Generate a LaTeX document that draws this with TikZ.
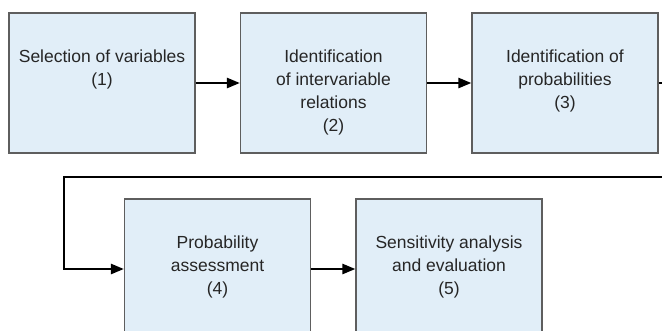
\documentclass[tikz,border=0pt]{standalone}
\usepackage{fontspec}
\setmainfont{Liberation Sans}
\usetikzlibrary{positioning,arrows.meta}
\definecolor{boxfill}{HTML}{E1EEF8}
\definecolor{boxline}{HTML}{5E5E5E}
\definecolor{txtgray}{HTML}{262626}
\tikzset{
  stepbox/.style={draw=boxline, line width=1.2pt, fill=boxfill, minimum width=186pt, minimum height=140pt, inner sep=0pt},
  steptext/.style={text=txtgray, align=center, font=\fontsize{17.5}{23}\selectfont, inner sep=0pt},
  flow/.style={line width=2.5pt, -{Triangle[length=13pt,width=10pt]}}
}
\begin{document}
\begin{tikzpicture}[x=1pt,y=1pt]
\useasboundingbox (0,0) rectangle (662,-330);
\clip (0,0) rectangle (662,-330);
% first row
\node[stepbox] (s1) at (102,-83) {};
\node[stepbox] (s2) at (333.5,-83) {};
\node[stepbox] (s3) at (565,-83) {};
\node[steptext, below=37.5pt of s1.north] (s1t) {Selection of variables\\(1)};
\node[steptext, below=37.5pt of s2.north] (s2t) {Identification\\of intervariable\\relations\\(2)};
\node[steptext, below=37.5pt of s3.north] (s3t) {Identification of\\probabilities\\(3)};
% second row
\node[stepbox] (s4) at (217.5,-269) {};
\node[stepbox] (s5) at (449,-269) {};
\node[steptext, below=37.5pt of s4.north] (s4t) {Probability\\assessment\\(4)};
\node[steptext, below=37.5pt of s5.north] (s5t) {Sensitivity analysis\\and evaluation\\(5)};
% arrows
\coordinate (back) at (64,-177);
\draw[flow] (s1) -- (s2);
\draw[flow] (s2) -- (s3);
\draw[flow] (s3.east) -- ++(30,0) |- (back) |- (s4.west);
\draw[flow] (s4) -- (s5);
\end{tikzpicture}
\end{document}
